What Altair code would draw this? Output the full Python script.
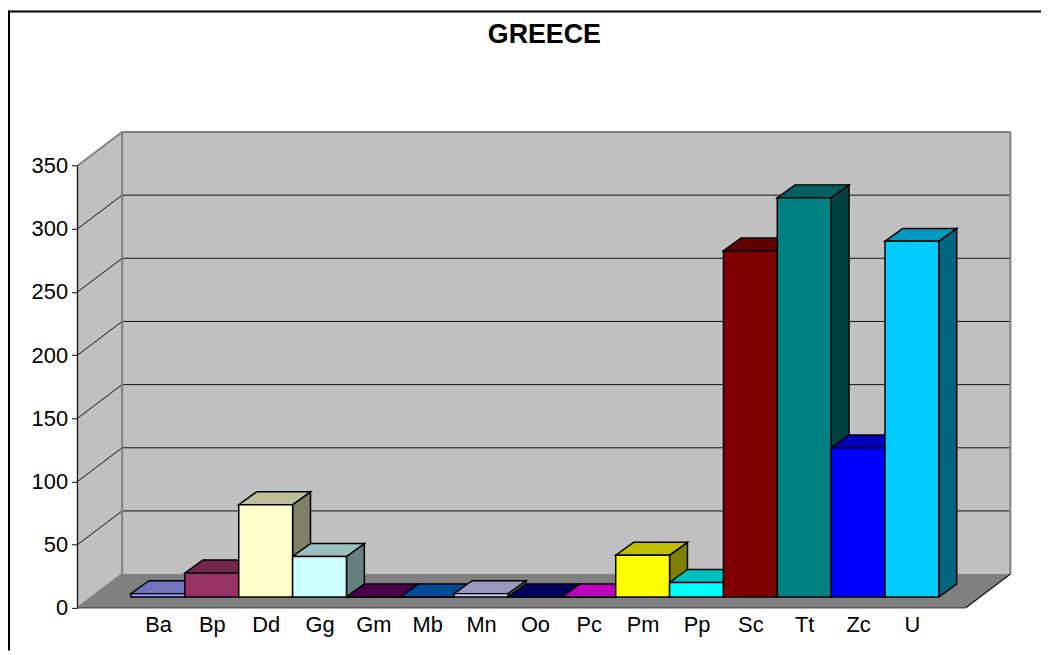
import altair as alt
import pandas as pd

categories = ["Ba","Bp","Dd","Gg","Gm","Mb","Mn","Oo","Pc","Pm","Pp","Sc","Tt","Zc","U"]
values = [2.6,19,73,32,0,0,2.6,0,0,33,11.5,274,316,118,281.5]
front_colors = ["#9999FF","#993366","#FFFFCC","#CCFFFF","#660066","#0066CC","#CCCCFF","#000080",
                "#FF00FF","#FFFF00","#00FFFF","#800000","#008080","#0000FF","#00CCFF"]
y_ticks = [0,50,100,150,200,250,300,350]
grid_values = [50,100,150,200,250,300]

W, H = 1041, 645
xs = alt.Scale(domain=[-2.285, 16.897], range=[0, W], nice=False, zero=False)
ys = alt.Scale(domain=[-33.8, 472.9], range=[H, 0], nice=False, zero=False)

# projection constants, in data units
LIFT = 8.64          # bars stand this far behind the front floor edge
BAR_DX, BAR_DY = 0.332, 10.2
WALL_DX, WALL_DY = 0.829, 26.7
FL, FR = -0.995, 15.5
TOP = 350

def shade(hex_color, k):
    r, g, b = (int(hex_color[i:i+2], 16) for i in (1, 3, 5))
    return "#%02X%02X%02X" % (round(r*k), round(g*k), round(b*k))

x_axis = alt.Axis(
    values=[i+0.5 for i in range(15)],
    labelExpr="%s[round(datum.value-0.5)]" % str(categories),
    domain=False, ticks=False, grid=False, offset=-43, labelPadding=7, title=None,
    labelFont="Liberation Sans", labelFontSize=22, labelColor="#000000",
    labelOverlap=False, labelBound=False, labelFlush=False, labelAngle=0)
y_axis = alt.Axis(
    values=y_ticks, domain=False, grid=False, offset=-70, tickSize=6, tickColor="#000000",
    tickWidth=1, labelPadding=4, labelFont="Liberation Sans", labelFontSize=22, labelColor="#000000",
    labelOverlap=False, labelBound=False, labelFlush=False, title=None)

X = lambda f="x": alt.X(f"{f}:Q", scale=xs, axis=x_axis)
Y = lambda f="y": alt.Y(f"{f}:Q", scale=ys, axis=y_axis)

def segs(rows, color, width):
    df = pd.DataFrame(rows, columns=["x","y","x2","y2"])
    return alt.Chart(df).mark_rule(color=color, strokeWidth=width).encode(
        x=X(), y=Y(), x2="x2:Q", y2="y2:Q")

# walls and floor
back = alt.Chart(pd.DataFrame({"x":[FL+WALL_DX],"x2":[FR+WALL_DX],"y":[WALL_DY],"y2":[TOP+WALL_DY]})).mark_rect(
    color="#C0C0C0").encode(x=X(), x2="x2:Q", y=Y(), y2="y2:Q")
left = alt.Chart(pd.DataFrame({"x":[FL,FL+WALL_DX],"y":[0,WALL_DY],"y2":[TOP,TOP+WALL_DY]})).mark_area(
    color="#C0C0C0", orient="vertical").encode(x=X(), y=Y(), y2="y2:Q")
floor = alt.Chart(pd.DataFrame({"x":[FL,FL+WALL_DX],"x2":[FR,FR+WALL_DX],"y":[0,WALL_DY]})).mark_area(
    color="#808080", orient="horizontal").encode(x=X(), x2="x2:Q", y=Y())

grid = segs([(FL,v,FL+WALL_DX,v+WALL_DY) for v in grid_values] +
            [(FL+WALL_DX,v+WALL_DY,FR+WALL_DX,v+WALL_DY) for v in grid_values], "#111111", 1)
gray_edges = segs([(FL+WALL_DX,WALL_DY,FL+WALL_DX,TOP+WALL_DY),
                   (FL+WALL_DX,TOP+WALL_DY,FR+WALL_DX,TOP+WALL_DY),
                   (FR+WALL_DX,WALL_DY,FR+WALL_DX,TOP+WALL_DY),
                   (FL,TOP,FL+WALL_DX,TOP+WALL_DY),
                   (FL,0,FL+WALL_DX,WALL_DY)], "#808080", 2)
dark_edges = segs([(FL,0,FL,TOP),(FR,0,FR+WALL_DX,WALL_DY)], "#111111", 1.3)
front_edge = segs([(FL,0,FR,0)], "#555555", 1.5)

# bars: sides, then tops, then fronts
side_rows, top_rows, front_rows = [], [], []
for i, (c, v, col) in enumerate(zip(categories, values, front_colors)):
    t = v + LIFT
    side_rows += [dict(cat=c, fill=shade(col,0.5), x=i+1, y=LIFT, y2=t),
                  dict(cat=c, fill=shade(col,0.5), x=i+1+BAR_DX, y=LIFT+BAR_DY, y2=t+BAR_DY)]
    top_rows += [dict(cat=c, fill=shade(col,0.75), x=i, x2=i+1, y=t),
                 dict(cat=c, fill=shade(col,0.75), x=i+BAR_DX, x2=i+1+BAR_DX, y=t+BAR_DY)]
    front_rows.append(dict(cat=c, fill=col, x=i, x2=i+1, y=LIFT, y2=t, value=v))

stroke = dict(stroke="#000000", strokeWidth=1.5, strokeJoin="miter")
sides = alt.Chart(pd.DataFrame(side_rows)).mark_area(orient="vertical", **stroke).encode(
    x=X(), y=Y(), y2="y2:Q", fill=alt.Fill("fill:N", scale=None), detail="cat:N")
tops = alt.Chart(pd.DataFrame(top_rows)).mark_area(orient="horizontal", **stroke).encode(
    x=X(), x2="x2:Q", y=Y(), fill=alt.Fill("fill:N", scale=None), detail="cat:N")
fronts = alt.Chart(pd.DataFrame(front_rows)).mark_rect(**stroke).encode(
    x=X(), x2="x2:Q", y=Y(), y2="y2:Q", fill=alt.Fill("fill:N", scale=None))

# outer frame
frame_l = alt.Chart(pd.DataFrame({"a":[0]})).mark_rule(color="#000000", strokeWidth=2).encode(
    x=alt.value(1), y=alt.value(0), y2=alt.value(H))
frame_t = alt.Chart(pd.DataFrame({"a":[0]})).mark_rule(color="#000000", strokeWidth=2).encode(
    y=alt.value(1), x=alt.value(0), x2=alt.value(W))

chart = alt.layer(back, left, floor, grid, gray_edges, dark_edges, front_edge,
                  sides, tops, fronts, frame_l, frame_t).properties(
    width=W, height=H, padding=0, autosize=alt.AutoSizeParams(type="none"),
    title=alt.TitleParams("GREECE", font="Liberation Sans", fontWeight="bold", fontSize=27,
                          color="#000000", anchor="middle", dx=20, dy=44)
).configure_view(stroke=None)

chart.save("out.html", embed_options={"renderer": "svg", "actions": False})
